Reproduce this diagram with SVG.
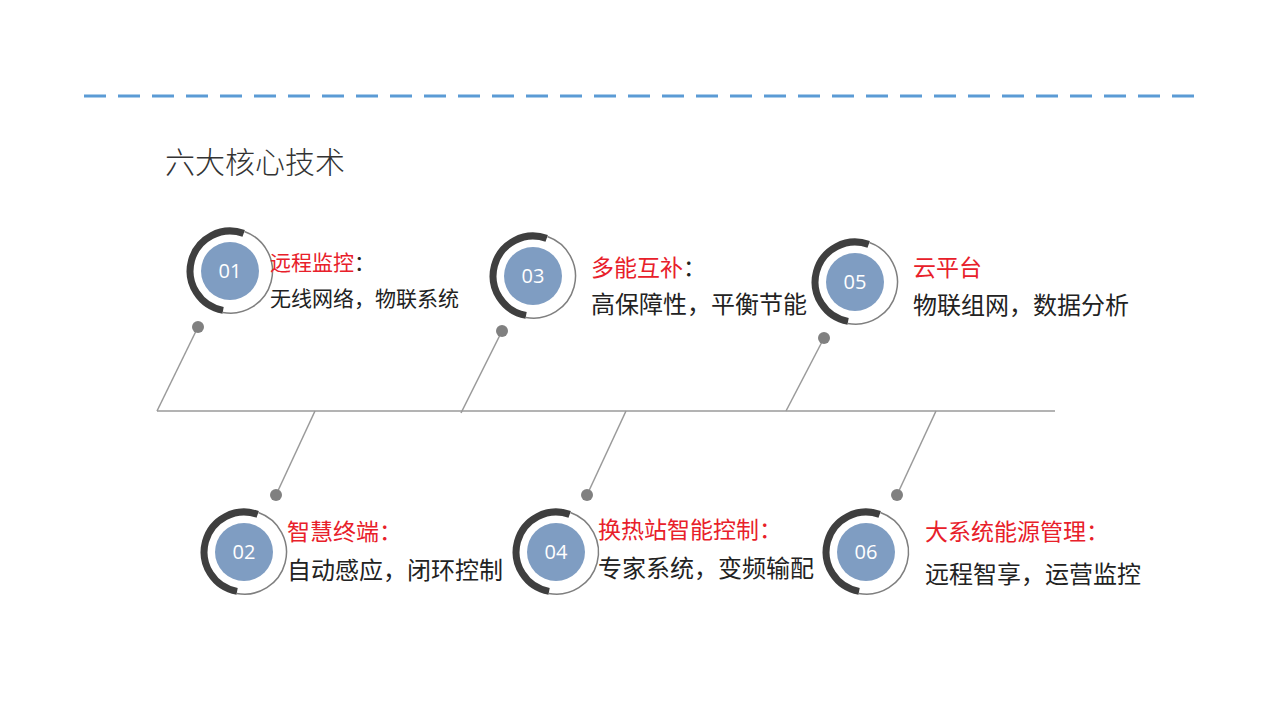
<svg xmlns="http://www.w3.org/2000/svg" width="1280" height="720" viewBox="0 0 1280 720">
<style>
.t{font-family:"Noto Sans CJK SC","Noto Sans",sans-serif;fill:#222}
.r{fill:#e8202a}
.n{font-family:"Open Sans","Liberation Sans",sans-serif;font-size:20px;fill:#fff;text-anchor:middle}
.in{fill:#7f9dc2}
.thick{fill:none;stroke:#3f3f3f;stroke-width:7}
.thin{fill:none;stroke:#7f7f7f;stroke-width:1.5}
.ln{stroke:#9a9a9a;stroke-width:1.5}
.dot{fill:#808080}
</style>
<defs>
<g id="ring">
<circle class="in" r="29"/>
<path class="thick" d="M13.7,-37.6 A40,40 0 1 0 -6.9,39.4"/>
<path class="thin" d="M14.4,-39.5 A42,42 0 0 1 -7.3,41.4"/>
</g>
</defs>
<rect width="1280" height="720" fill="#fff"/>
<line x1="84" y1="96" x2="1196" y2="96" stroke="#5b9bd5" stroke-width="3" stroke-dasharray="22,12"/>
<text x="165" y="173" class="t" font-size="30" font-weight="300" style="fill:#333">六大核心技术</text>
<g id="connectors">
<line class="ln" x1="157" y1="411" x2="1055" y2="411"/>
<line class="ln" x1="198" y1="327" x2="157" y2="411"/>
<line class="ln" x1="502" y1="331" x2="461" y2="413"/>
<line class="ln" x1="824" y1="338" x2="786" y2="411"/>
<line class="ln" x1="276" y1="495" x2="315" y2="411"/>
<line class="ln" x1="587" y1="495" x2="626" y2="411"/>
<line class="ln" x1="897" y1="495" x2="936" y2="411"/>
<circle class="dot" cx="198" cy="327" r="6"/>
<circle class="dot" cx="502" cy="331" r="6"/>
<circle class="dot" cx="824" cy="338" r="6"/>
<circle class="dot" cx="276" cy="495" r="6"/>
<circle class="dot" cx="587" cy="495" r="6"/>
<circle class="dot" cx="897" cy="495" r="6"/>
</g>
<g id="n01"><use href="#ring" x="230" y="271"/><text class="n" x="230" y="278">01</text>
<text class="t" x="270" y="270" font-size="21"><tspan class="r">远程监控</tspan>：</text>
<text class="t" x="270" y="306" font-size="21">无线网络，物联系统</text></g>
<g id="n03"><use href="#ring" x="533" y="276"/><text class="n" x="533" y="283">03</text>
<text class="t" x="591" y="276" font-size="23"><tspan class="r">多能互补</tspan>：</text>
<text class="t" x="591" y="313" font-size="24">高保障性，平衡节能</text></g>
<g id="n05"><use href="#ring" x="855" y="282"/><text class="n" x="855" y="289">05</text>
<text class="t r" x="913" y="276" font-size="23">云平台</text>
<text class="t" x="913" y="314" font-size="24">物联组网，数据分析</text></g>
<g id="n02"><use href="#ring" x="244" y="552"/><text class="n" x="244" y="559">02</text>
<text class="t r" x="287" y="540" font-size="23">智慧终端：</text>
<text class="t" x="287" y="579" font-size="24">自动感应，闭环控制</text></g>
<g id="n04"><use href="#ring" x="556" y="552"/><text class="n" x="556" y="559">04</text>
<text class="t r" x="598" y="538" font-size="23">换热站智能控制：</text>
<text class="t" x="598" y="577" font-size="24">专家系统，变频输配</text></g>
<g id="n06"><use href="#ring" x="866" y="552"/><text class="n" x="866" y="559">06</text>
<text class="t r" x="925" y="540" font-size="23">大系统能源管理：</text>
<text class="t" x="925" y="583" font-size="24">远程智享，运营监控</text></g>
</svg>
